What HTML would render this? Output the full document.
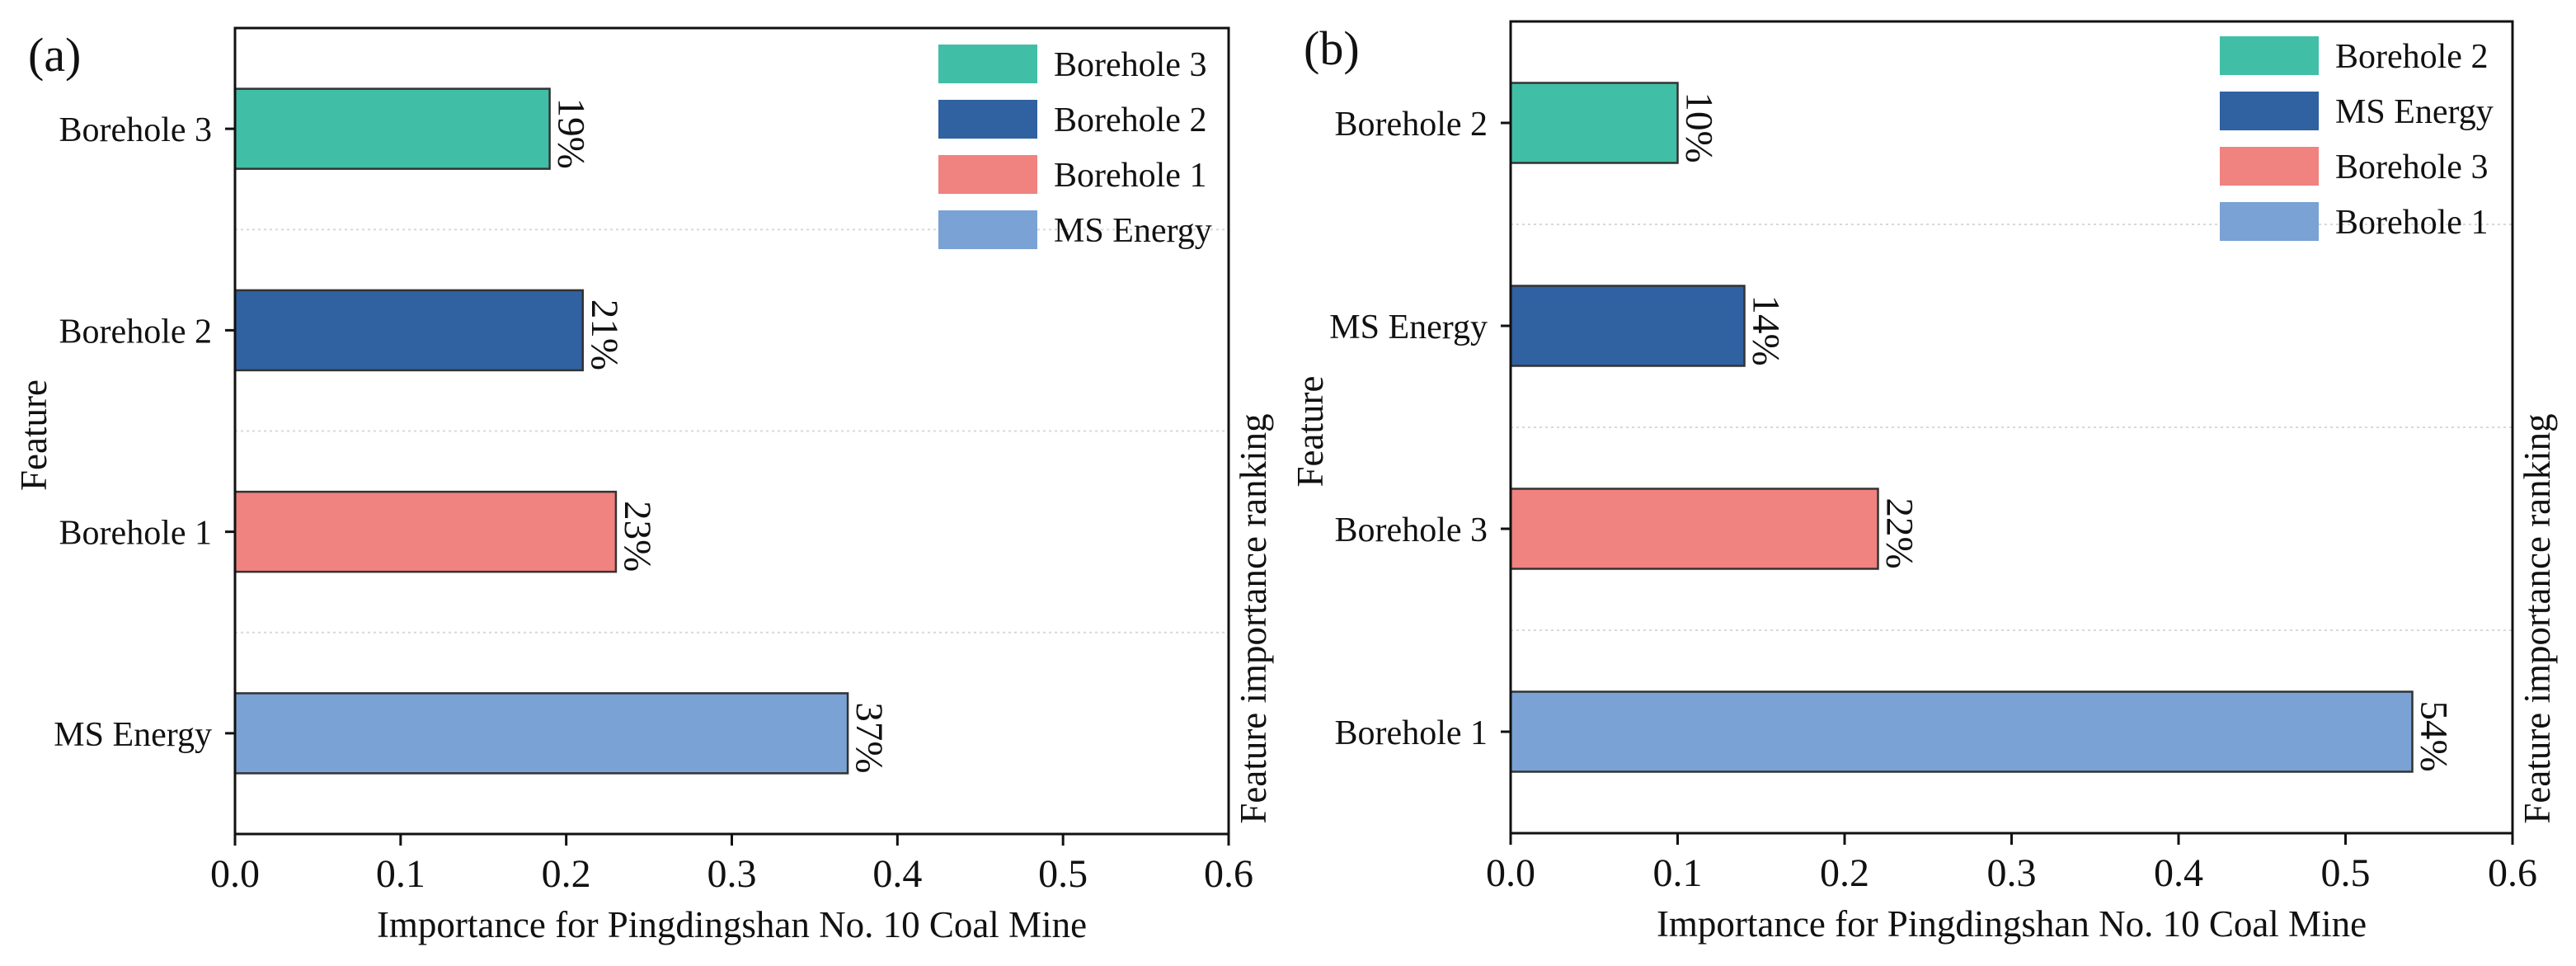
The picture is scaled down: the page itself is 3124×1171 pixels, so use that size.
<!DOCTYPE html>
<html><head><meta charset="utf-8">
<style>
html,body{margin:0;padding:0;background:#fff;}
svg{display:block;font-family:"Liberation Serif",serif;}
</style></head>
<body>
<svg id="chart" width="3124" height="1171" viewBox="0 0 3124 1171" xmlns="http://www.w3.org/2000/svg"></svg>
<script>
// Panel (a)
const catsA = ["Borehole 3","Borehole 2","Borehole 1","MS Energy"];
const valsA = [0.19,0.21,0.23,0.37];
const labelsA = ["19%","21%","23%","37%"];
const legendA = ["Borehole 3","Borehole 2","Borehole 1","MS Energy"];
// Panel (b)
const catsB = ["Borehole 2","MS Energy","Borehole 3","Borehole 1"];
const valsB = [0.10,0.14,0.22,0.54];
const labelsB = ["10%","14%","22%","54%"];
const legendB = ["Borehole 2","MS Energy","Borehole 3","Borehole 1"];
const xTicks = [0,0.1,0.2,0.3,0.4,0.5,0.6];
const xTickLabels = ["0.0","0.1","0.2","0.3","0.4","0.5","0.6"];
const colors = ["#40bfa6","#3061a1","#f08280","#7aa2d4"];

const NS="http://www.w3.org/2000/svg";
const svg=document.getElementById('chart');
function mk(tag,attrs,parent,text){const e=document.createElementNS(NS,tag);for(const k in attrs)e.setAttribute(k,attrs[k]);if(text!==undefined)e.textContent=text;(parent||svg).appendChild(e);return e;}

function panel(p){
  const g=mk('g',{});
  
  
  const L=p.left,R=p.right,T=p.top,B=p.bottom;
  const xs=v=>L+v/0.6*(R-L);
  const n=p.cats.length, band=(B-T)/n;
  const yc=i=>T+band*(i+0.5);
  const bh=97;
  for(let i=1;i<n;i++){
    const gl=mk('line',{x1:L,x2:R,y1:T+band*i,y2:T+band*i,stroke:'#d8d8d8','stroke-width':2,'stroke-dasharray':'3,4'},g);
    
    
  }
  p.vals.forEach((v,i)=>{
    const r=mk('rect',{x:L,y:yc(i)-bh/2,width:xs(v)-L,height:bh,fill:colors[i],stroke:'#333','stroke-width':2.5},g);
    
    
    const bx=xs(v)+11, by=yc(i)-bh/2+11;
    const t=mk('text',{x:bx,y:by,transform:`rotate(90 ${bx} ${by})`,'font-size':47,fill:'#111'},g,p.labels[i]);
    
    
    mk('line',{x1:L-12,x2:L,y1:yc(i),y2:yc(i),stroke:'#111','stroke-width':3},g);
    const yl=mk('text',{x:L-28,y:yc(i)+15,'text-anchor':'end','font-size':42,fill:'#111'},g,p.cats[i]);
    
    
  });
  const fr=mk('rect',{x:L,y:T,width:R-L,height:B-T,fill:'none',stroke:'#111','stroke-width':3},g);
  
  
  xTicks.forEach((v,i)=>{
    mk('line',{x1:xs(v),x2:xs(v),y1:B,y2:B+14,stroke:'#111','stroke-width':3},g);
    const xl=mk('text',{x:xs(v),y:B+64,'text-anchor':'middle','font-size':48,fill:'#111'},g,xTickLabels[i]);
    
    
  });
  const xt=mk('text',{x:(L+R)/2,y:B+125,'text-anchor':'middle','font-size':45,fill:'#111'},g,'Importance for Pingdingshan No. 10 Coal Mine');
  
  
  const yx=p.featX, yy=(T+B)/2+5;
  const yt=mk('text',{x:yx,y:yy,transform:`rotate(-90 ${yx} ${yy})`,'text-anchor':'middle','font-size':45,fill:'#111'},g,'Feature');
  
  
  const rx=R+45, ry=750;
  const rt=mk('text',{x:rx,y:ry,transform:`rotate(-90 ${rx} ${ry})`,'text-anchor':'middle','font-size':45,fill:'#111'},g,'Feature importance ranking');
  
  
  const pl=mk('text',{x:p.tagX,y:p.tagY,'font-size':58,fill:'#111'},g,p.tag);
  
  
  p.legend.forEach((name,i)=>{
    const ly=p.legTop+i*67;
    const lr=mk('rect',{x:p.legX,y:ly,width:120,height:47,fill:colors[i]},g);
    
    
    const lt=mk('text',{x:p.legX+140,y:ly+38,'font-size':42,fill:'#111'},g,name);
    
    
  });
}
panel({id:'a',tag:'(a)',left:285,right:1490,top:34,bottom:1011,cats:catsA,vals:valsA,labels:labelsA,legend:legendA,featX:56,tagX:34,tagY:86,legX:1138,legTop:54});
panel({id:'b',tag:'(b)',left:1832,right:3047,top:26,bottom:1010,cats:catsB,vals:valsB,labels:labelsB,legend:legendB,featX:1604,tagX:1581,tagY:78,legX:2692,legTop:44});
</script>
</body></html>
